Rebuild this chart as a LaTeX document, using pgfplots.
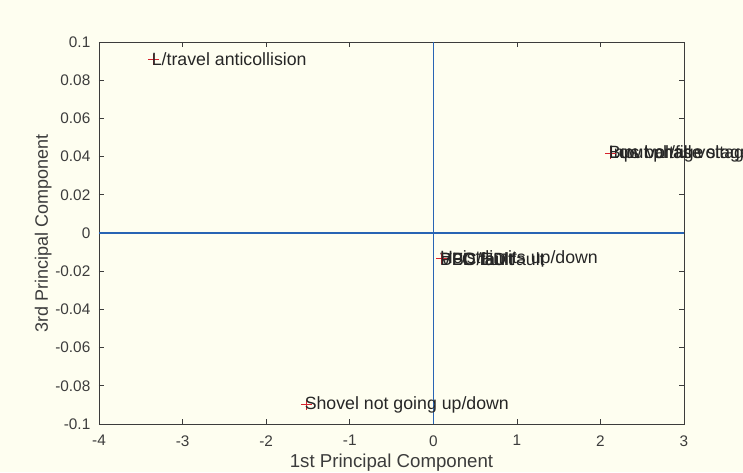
\documentclass[border=0pt]{standalone}
\usepackage{fontspec}
\setmainfont{Liberation Sans}
\usepackage{pgfplots}
\pgfplotsset{compat=1.18}
\usetikzlibrary{calc,backgrounds}
\definecolor{bgcream}{RGB}{254,254,240}
\definecolor{axgray}{RGB}{60,60,60}
\definecolor{crossblue}{RGB}{40,100,180}
\definecolor{markred}{RGB}{215,35,45}

\pgfplotstableread[col sep=comma]{
x,y,lab
-3.35,0.091,L/travel anticollision
-1.52,-0.090,Shovel not going up/down
0.10,-0.0135,Hoist limits up/down
0.10,-0.0135,BBC/ED fault
0.10,-0.0135,VFD fault
0.10,-0.0135,PLC fault
2.12,0.0415,Bus bar/fill voltage
2.12,0.0415,Input phase stage
2.12,0.0415,Low voltage
}\pcadata

\begin{document}
\begin{tikzpicture}
\begin{axis}[
    scale only axis,
    width=438.75pt, height=286.5pt,
    xmin=-4, xmax=3, ymin=-0.1, ymax=0.1,
    xtick={-4,...,3},
    ytick={-0.1,-0.08,...,0.1},
    /pgf/number format/assume math mode=true,
    tick align=inside,
    major tick length=4pt,
    tick style={axgray, line width=0.5pt},
    axis line style={axgray, line width=0.6pt},
    tick label style={font=\fontsize{11.5}{13}\selectfont, text=axgray},
    xticklabel style={yshift=-5pt},
    yticklabel style={xshift=-3pt, /pgf/number format/.cd, fixed, precision=2},
    xlabel={1st Principal Component},
    ylabel={3rd Principal Component},
    xlabel style={font=\fontsize{14}{16}\selectfont, text=axgray, yshift=1pt},
    ylabel style={font=\fontsize{13.5}{16}\selectfont, text=axgray, yshift=-4pt},
    clip=false,
]
\addplot[draw=crossblue, mark=none, line width=0.8pt] coordinates {(-4,0) (3,0)};
\addplot[draw=crossblue, mark=none, line width=0.8pt] coordinates {(0,-0.1) (0,0.1)};
\addplot[only marks, mark=+, mark size=4pt, color=markred,
    mark options={line width=0.8pt, draw=markred},
    point meta=explicit symbolic,
    nodes near coords,
    nodes near coords style={anchor=west, inner sep=0pt, xshift=-1.5pt,
        font=\fontsize{13.3}{15}\selectfont, text=black!85}]
    table[x=x, y=y, meta=lab] {\pcadata};
\end{axis}
\pgfresetboundingbox
\path[use as bounding box]
    ($(current axis.south west)+(-74.25pt,-36pt)$) rectangle
    ($(current axis.south west)+(483pt,318pt)$);
\begin{scope}[on background layer]
\fill[bgcream] ($(current axis.south west)+(-74.25pt,-36pt)$) rectangle
    ($(current axis.south west)+(483pt,318pt)$);
\end{scope}
\end{tikzpicture}
\end{document}
